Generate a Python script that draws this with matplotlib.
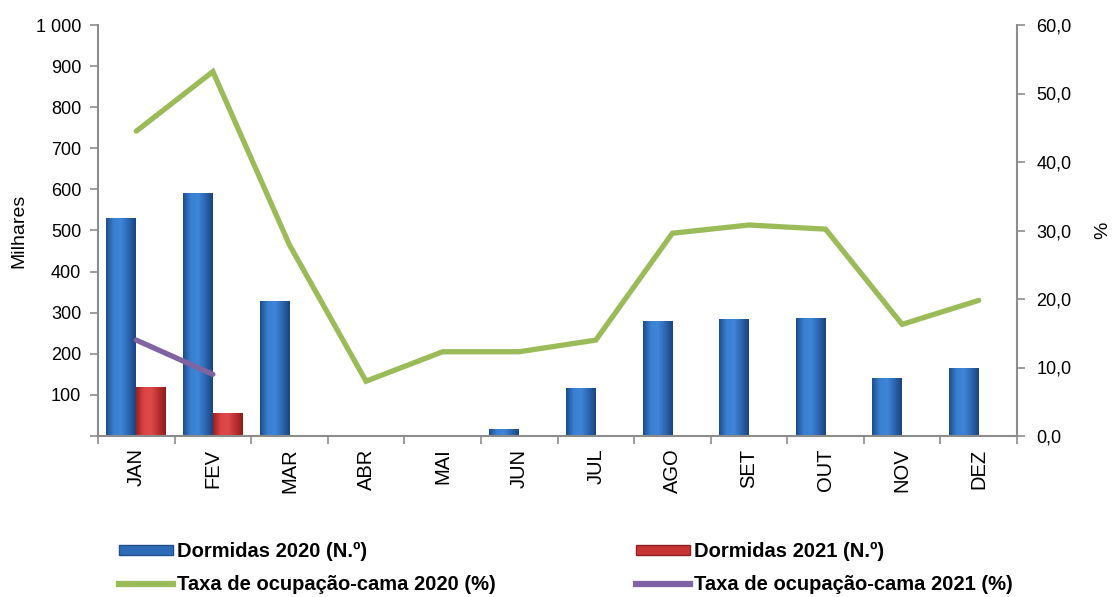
import matplotlib
matplotlib.use("Agg")
import matplotlib.pyplot as plt
import numpy as np
from matplotlib.ticker import FuncFormatter, FixedLocator
from matplotlib.patches import Rectangle
from matplotlib.lines import Line2D
from matplotlib.colors import LinearSegmentedColormap

plt.rcParams['font.family'] = ['Liberation Sans', 'DejaVu Sans']

months = ["JAN", "FEV", "MAR", "ABR", "MAI", "JUN", "JUL", "AGO", "SET", "OUT", "NOV", "DEZ"]
dormidas_2020 = [530, 591, 328, 3, 3, 18, 117, 280, 284, 287, 141, 166]
dormidas_2021 = [119, 56]
taxa_2020 = [44.5, 53.2, 27.9, 8.0, 12.3, 12.3, 14.0, 29.6, 30.8, 30.2, 16.3, 19.8]
taxa_2021 = [14.0, 9.0]

blue = "#2F6CB8"
red = "#C73535"
green = "#9BBB59"
purple = "#8064A2"
gray = "#8C8C8C"

blue_cmap = LinearSegmentedColormap.from_list("b", ["#1E4C8C", "#3A7FD0", "#3E86D8", "#2C67B2", "#1B447E"])
red_cmap = LinearSegmentedColormap.from_list("r", ["#9C2020", "#D94444", "#DE4A4A", "#BE3030", "#8E1C1C"])

fig = plt.figure(figsize=(11.12, 5.97), dpi=100)
ax = fig.add_axes([98/1112, 1-436/597, (1017-98)/1112, (436-25)/597])
ax2 = ax.twinx()

x = np.arange(len(months))
w = 0.39
b1 = ax.bar(x - w/2, dormidas_2020, width=w, color=blue, edgecolor="none", zorder=2)
x21 = np.arange(len(dormidas_2021))
b2 = ax.bar(x21 + w/2, dormidas_2021, width=w, color=red, edgecolor="none", zorder=2)

grad = np.linspace(0, 1, 64).reshape(1, -1)
for bars, cmap in ((b1, blue_cmap), (b2, red_cmap)):
    for p in bars:
        x0, y0 = p.get_x(), p.get_y()
        bw, bh = p.get_width(), p.get_height()
        im = ax.imshow(grad, cmap=cmap, aspect='auto', extent=(x0, x0 + bw, y0, y0 + bh),
                       zorder=2.1, interpolation='bicubic')
        im.set_clip_path(p)

ax2.plot(x, taxa_2020, color=green, lw=3.8, solid_capstyle='round', solid_joinstyle='miter', zorder=3)
ax2.plot(x21, taxa_2021, color=purple, lw=3.8, solid_capstyle='round', zorder=3)

ax.set_xlim(-0.5, 11.5)
ax.set_ylim(0, 1000)
ax2.set_ylim(0, 60)

ax.yaxis.set_major_locator(FixedLocator(np.arange(0, 1001, 100)))
ax.yaxis.set_major_formatter(FuncFormatter(lambda v, p: "" if v == 0 else f"{int(v):,}".replace(",", " ")))
ax2.yaxis.set_major_locator(FixedLocator(np.arange(0, 61, 10)))
ax2.yaxis.set_major_formatter(FuncFormatter(lambda v, p: f"{v:.1f}".replace(".", ",")))

ax.set_xticks(x)
ax.set_xticklabels(months, rotation=90)
ax.set_xticks(np.arange(-0.5, 12, 1), minor=True)
ax.tick_params(axis='x', which='major', length=0, pad=9, labelsize=14.5)
ax.tick_params(axis='x', which='minor', length=6, color=gray, width=1.2)
ax.tick_params(axis='y', length=6, color=gray, width=1.2, labelsize=13, pad=6)
ax2.tick_params(axis='y', length=6, color=gray, width=1.2, labelsize=13, pad=8)

for a in (ax, ax2):
    a.spines['top'].set_visible(False)
    for s in ('left', 'right', 'bottom'):
        a.spines[s].set_color(gray)
        a.spines[s].set_linewidth(1.5)
ax.spines['right'].set_visible(False)
ax2.spines['left'].set_visible(False)
ax2.spines['bottom'].set_visible(False)

ax.set_ylabel("Milhares", fontsize=14, labelpad=6)
ax2.set_ylabel("%", fontsize=14, labelpad=16)

lprop = {'weight': 'bold', 'size': 14.5}
col1_h = [Rectangle((0, 0), 1, 1, facecolor=blue, edgecolor="#1F4E8A"),
          Line2D([], [], color=green, lw=4.5)]
col1_l = ["Dormidas 2020 (N.º)", "Taxa de ocupação-cama 2020 (%)"]
col2_h = [Rectangle((0, 0), 1, 1, facecolor=red, edgecolor="#8E2222"),
          Line2D([], [], color=purple, lw=4.5)]
col2_l = ["Dormidas 2021 (N.º)", "Taxa de ocupação-cama 2021 (%)"]
for hs, ls, x_anchor in ((col1_h, col1_l, 103), (col2_h, col2_l, 620)):
    lg = fig.legend(hs, ls, loc='upper left', bbox_to_anchor=(x_anchor/1112, 1-526/597),
                    frameon=False, handlelength=2.7, handleheight=0.45, handletextpad=0.15,
                    labelspacing=0.7, borderpad=0.3, prop=lprop)

fig.savefig("out.png", dpi=100)
